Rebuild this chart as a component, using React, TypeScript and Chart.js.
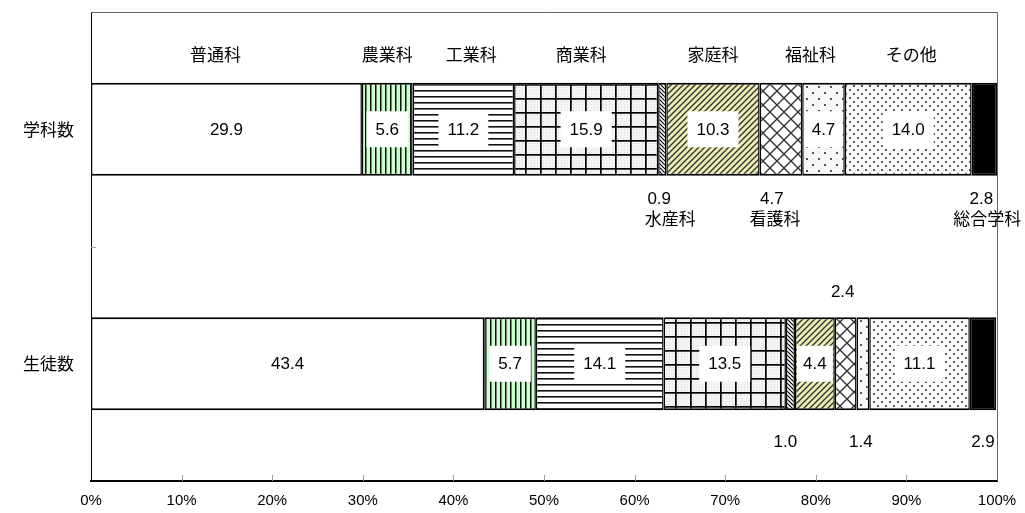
import { useEffect, useRef } from "react";
import { Chart, registerables } from "chart.js";

Chart.register(...registerables);

// ---- data ----
const categories = ["学科数", "生徒数"];
const seriesNames = ["普通科", "農業科", "工業科", "商業科", "水産科", "家庭科", "看護科", "福祉科", "その他", "総合学科"];
const gakkaValues = [29.9, 5.6, 11.2, 15.9, 0.9, 10.3, 4.7, 4.7, 14.0, 2.8];
const seitoValues = [43.4, 5.7, 14.1, 13.5, 1.0, 4.4, 2.4, 1.4, 11.1, 2.9];
const xTickStep = 10;
const xMax = 100;

// ---- style config ----
const JP = "'Noto Sans CJK JP', 'Noto Sans', sans-serif";
const NUM = "'Liberation Sans', Arial, sans-serif";

// label placement per row: in / below / above
const placements = [
  ["in", "in", "in", "in", "below", "in", "below", "in", "in", "below"],
  ["in", "in", "in", "in", "below", "in", "above", "below", "in", "below"],
];
// which series names are drawn above the chart (others drawn below number in row 0)
const nameOnTop = [true, true, true, true, false, true, false, true, true, false];
const topNameShift = [-11, 0, 8, -5, 0, 0, 0, -13, 3, 0];
const numShift = [
  [0, 0, 0, 0, -3, 0, -9, 0, 0, -3],
  [0, 0, 0, 0, -5, 0, -3, -2, 0, 0],
];
const nameShift = [0, 0, 0, 0, 8, 0, -6, 0, 0, 3];

function tile(w: number, h: number, draw: (g: CanvasRenderingContext2D) => void): CanvasPattern | string {
  const c = document.createElement("canvas");
  c.width = w;
  c.height = h;
  const g = c.getContext("2d");
  if (!g) return "#fff";
  draw(g);
  return g.createPattern(c, "repeat") || "#fff";
}

function makeFills(): (CanvasPattern | string)[] {
  const general = "#ffffff";
  const agri = tile(5, 5, (g) => {
    g.fillStyle = "#ccffcc";
    g.fillRect(0, 0, 5, 5);
    g.fillStyle = "#111";
    g.fillRect(0, 0, 1.5, 5);
  });
  const ind = tile(6, 6, (g) => {
    g.fillStyle = "#fff";
    g.fillRect(0, 0, 6, 6);
    g.fillStyle = "#111";
    g.fillRect(0, 0, 6, 1.6);
  });
  const comm = tile(15, 14, (g) => {
    g.fillStyle = "#f4f4f4";
    g.fillRect(0, 0, 15, 14);
    g.fillStyle = "#dcdcdc";
    for (let y = 3; y < 14; y += 3) for (let x = 3; x < 15; x += 3) g.fillRect(x, y, 1, 1);
    g.fillStyle = "#000";
    g.fillRect(0, 0, 1.7, 14);
    g.fillRect(0, 0, 15, 1.7);
  });
  const fish = tile(4, 4, (g) => {
    g.fillStyle = "#fff";
    g.fillRect(0, 0, 4, 4);
    g.strokeStyle = "#000";
    g.lineWidth = 1.2;
    g.beginPath();
    g.moveTo(-1, -1);
    g.lineTo(5, 5);
    g.moveTo(-1, 3);
    g.lineTo(1, 5);
    g.moveTo(3, -1);
    g.lineTo(5, 1);
    g.stroke();
  });
  const home = tile(6, 6, (g) => {
    g.fillStyle = "#eeeeb4";
    g.fillRect(0, 0, 6, 6);
    g.strokeStyle = "#333";
    g.lineWidth = 1.4;
    g.beginPath();
    g.moveTo(-1, 7);
    g.lineTo(7, -1);
    g.moveTo(-1, 1);
    g.lineTo(1, -1);
    g.moveTo(5, 7);
    g.lineTo(7, 5);
    g.stroke();
  });
  const nurse = tile(14, 14, (g) => {
    g.fillStyle = "#fff";
    g.fillRect(0, 0, 14, 14);
    g.strokeStyle = "#333";
    g.lineWidth = 1.4;
    g.beginPath();
    g.moveTo(0, 0);
    g.lineTo(14, 14);
    g.moveTo(14, 0);
    g.lineTo(0, 14);
    g.stroke();
  });
  const welfare = tile(12, 12, (g) => {
    g.fillStyle = "#f8f8f8";
    g.fillRect(0, 0, 12, 12);
    g.fillStyle = "#555";
    g.fillRect(2, 2, 2, 2);
    g.fillRect(8, 8, 2, 2);
  });
  const other = tile(8, 8, (g) => {
    g.fillStyle = "#fbfbfb";
    g.fillRect(0, 0, 8, 8);
    g.fillStyle = "#555";
    g.fillRect(1, 1, 2, 2);
    g.fillRect(5, 5, 2, 2);
  });
  const total = "#000000";
  return [general, agri, ind, comm, fish, home, nurse, welfare, other, total];
}

const framePlugin = {
  id: "frame",
  beforeDatasetsDraw(chart: any) {
    const { ctx, chartArea, scales } = chart;
    const { left, right, top, bottom } = chartArea;
    ctx.save();
    ctx.strokeStyle = "#666";
    ctx.lineWidth = 1;
    ctx.beginPath();
    ctx.moveTo(left, top + 0.5);
    ctx.lineTo(right + 0.5, top + 0.5);
    ctx.lineTo(right + 0.5, bottom);
    ctx.stroke();
    // x tick marks
    ctx.strokeStyle = "#999";
    ctx.beginPath();
    for (let v = xTickStep; v < xMax; v += xTickStep) {
      const x = Math.round(scales.x.getPixelForValue(v)) + 0.5;
      ctx.moveTo(x, bottom);
      ctx.lineTo(x, bottom - 6);
    }
    // y category boundary tick
    const yMid = Math.round((scales.y.getPixelForValue(0) + scales.y.getPixelForValue(1)) / 2) + 0.5;
    ctx.moveTo(left, yMid);
    ctx.lineTo(left + 5, yMid);
    ctx.stroke();
    ctx.restore();
  },
};

const labelPlugin = {
  id: "segLabels",
  afterDatasetsDraw(chart: any) {
    const { ctx } = chart;
    ctx.save();
    chart.data.datasets.forEach((ds: any, i: number) => {
      const meta = chart.getDatasetMeta(i);
      meta.data.forEach((bar: any, j: number) => {
        const p = bar.getProps(["x", "base", "y", "height"], true);
        const x0 = Math.min(p.x, p.base);
        const x1 = Math.max(p.x, p.base);
        const cx = (x0 + x1) / 2;
        const top = p.y - p.height / 2;
        const bot = p.y + p.height / 2;
        const txt = Number(ds.data[j]).toFixed(1);
        const place = placements[j][i];
        ctx.font = `17px ${NUM}`;
        ctx.textAlign = "center";
        ctx.textBaseline = "middle";
        if (place === "in") {
          const w = ctx.measureText(txt).width;
          const bw = Math.min(w + 18, x1 - x0 - 4);
          const bh = 36;
          ctx.fillStyle = "#fff";
          ctx.fillRect(cx - bw / 2, p.y - bh / 2, bw, bh);
          ctx.fillStyle = "#000";
          ctx.fillText(txt, cx, p.y + 1);
        } else if (place === "below") {
          const off = j === 0 ? 24 : 32;
          ctx.fillStyle = "#000";
          ctx.fillText(txt, cx + numShift[j][i], bot + off);
          if (j === 0 && !nameOnTop[i]) {
            ctx.font = `17px ${JP}`;
            ctx.fillText(seriesNames[i], cx + nameShift[i], bot + off + 19);
          }
        } else if (place === "above") {
          ctx.fillStyle = "#000";
          ctx.fillText(txt, cx + numShift[j][i], top - 25);
        }
        if (j === 0 && nameOnTop[i]) {
          ctx.font = `17px ${JP}`;
          ctx.fillStyle = "#000";
          ctx.fillText(seriesNames[i], cx + topNameShift[i], 55);
        }
      });
    });
    ctx.restore();
  },
};

export default function App() {
  const ref = useRef<HTMLCanvasElement | null>(null);
  useEffect(() => {
    if (!ref.current) return;
    const fills = makeFills();
    const chart = new Chart(ref.current, {
      type: "bar",
      data: {
        labels: categories,
        datasets: seriesNames.map((name, i) => ({
          label: name,
          data: [gakkaValues[i], seitoValues[i]],
          backgroundColor: fills[i] as any,
          borderColor: "#000",
          borderWidth: { top: 2, bottom: 2, left: 1.5, right: 1.5 },
          borderSkipped: false,
          barPercentage: 0.397,
          categoryPercentage: 1,
        })),
      },
      options: {
        indexAxis: "y",
        responsive: false,
        animation: false,
        devicePixelRatio: 1,
        layout: { padding: { top: 12, right: 28, left: 0, bottom: 0 } },
        plugins: { legend: { display: false }, tooltip: { enabled: false } },
        scales: {
          x: {
            type: "linear",
            stacked: true,
            min: 0,
            max: xMax,
            ticks: {
              stepSize: xTickStep,
              callback: (v: any) => `${v}%`,
              color: "#000",
              font: { size: 15, family: NUM },
              padding: 3,
              maxRotation: 0,
            },
            grid: { display: false },
            border: { display: true, color: "#000", width: 2 },
            afterFit: (s: any) => {
              s.height = 32;
              s.paddingLeft = 0;
              s.paddingRight = 0;
            },
          },
          y: {
            type: "category",
            stacked: true,
            ticks: { color: "#000", font: { size: 17, family: JP }, padding: 9 },
            grid: { display: false },
            border: { display: true, color: "#000", width: 1 },
            afterFit: (s: any) => {
              s.width = 91;
              s.paddingTop = 0;
              s.paddingBottom = 0;
            },
          },
        },
      } as any,
      plugins: [framePlugin, labelPlugin],
    });
    return () => chart.destroy();
  }, []);
  return (
    <div style={{ position: "absolute", left: 0, top: 0, width: 1025, height: 513, background: "#fff" }}>
      <canvas ref={ref} width={1025} height={513} style={{ width: 1025, height: 513, display: "block" }} />
    </div>
  );
}
